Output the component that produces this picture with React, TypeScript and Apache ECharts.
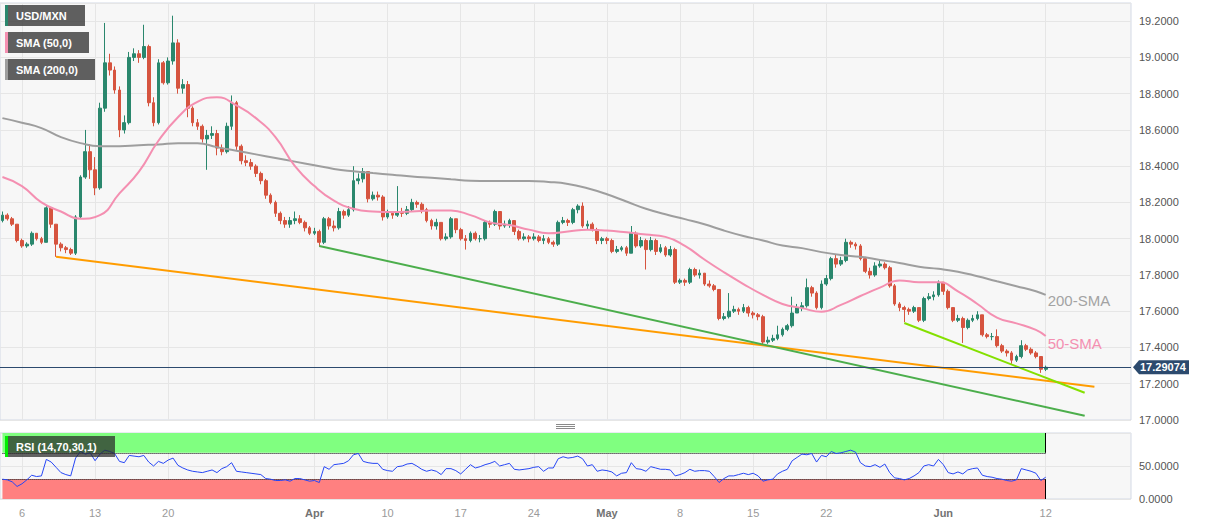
import React, { useEffect, useRef } from 'react';
import * as echarts from 'echarts';

const FONT = '"Liberation Sans", Arial, Helvetica, sans-serif';
const SLOT_COUNT = 232;

const firstOpen = 18.1;
const closes = [
  18.13, 18.11, 18.08, 17.99, 17.96, 17.97, 18.03, 18.0, 17.98, 18.17,
  18.08, 17.97, 17.95, 17.94, 17.92, 18.12, 18.34, 18.48, 18.38, 18.28,
  18.72, 18.97, 18.93, 18.82, 18.6, 18.64, 19.0, 19.02, 19.0, 19.06,
  18.75, 18.64, 18.97, 18.86, 18.98, 19.08, 18.83, 18.85, 18.72, 18.64,
  18.62, 18.55, 18.57, 18.58, 18.5, 18.48, 18.62, 18.75, 18.51, 18.43,
  18.42, 18.4, 18.36, 18.32, 18.24, 18.2, 18.14, 18.1, 18.08, 18.1,
  18.11, 18.09, 18.06, 18.03, 18.04, 17.98, 18.11, 18.07, 18.06, 18.15,
  18.13, 18.16, 18.32, 18.33, 18.37, 18.22, 18.24, 18.23, 18.12, 18.14,
  18.13, 18.15, 18.14, 18.16, 18.2, 18.19, 18.16, 18.1, 18.07, 18.09,
  18.0, 18.01, 18.11, 18.05, 18.0, 17.99, 18.03, 18.0, 18.0, 18.09,
  18.08, 18.15, 18.07, 18.08, 18.1, 18.04, 18.0, 18.01, 18.0, 18.01,
  17.99, 18.0, 17.98, 17.97, 18.09, 18.1, 18.09, 18.16, 18.18, 18.07,
  18.08, 18.05, 17.99, 18.0, 17.99, 17.93, 17.94, 17.95, 17.92, 18.03,
  17.96, 17.99, 17.94, 17.99, 17.93, 17.95, 17.91, 17.94, 17.76, 17.77,
  17.76, 17.83, 17.8, 17.81, 17.75, 17.74, 17.72, 17.56, 17.57, 17.6,
  17.61, 17.6, 17.62, 17.59, 17.58, 17.57, 17.43, 17.44, 17.45, 17.47,
  17.5, 17.52, 17.59, 17.62, 17.63, 17.73, 17.7, 17.62, 17.75, 17.78,
  17.89, 17.86, 17.88, 17.98, 17.97, 17.96, 17.89, 17.82, 17.8, 17.85,
  17.86, 17.84, 17.74, 17.64, 17.62, 17.61, 17.6, 17.62, 17.55, 17.67,
  17.68, 17.69, 17.76, 17.71, 17.62, 17.55, 17.56, 17.51, 17.55, 17.56,
  17.58, 17.47, 17.46, 17.46, 17.41, 17.38, 17.37, 17.33, 17.35, 17.41,
  17.39, 17.37, 17.35, 17.28, 17.29074,
];
const highs = [
  18.15, 18.14, 18.12, 18.08, 18.0, 17.98, 18.04, 18.03, 18.01, 18.18,
  18.17, 18.08, 17.98, 17.96, 17.95, 18.13, 18.35, 18.6, 18.52, 18.45,
  18.75, 19.19, 19.02, 18.95, 18.84, 18.68, 19.03, 19.05, 19.04, 19.18,
  19.07, 18.78, 18.99, 18.98, 19.0, 19.23, 19.1, 18.88, 18.87, 18.73,
  18.66, 18.63, 18.6, 18.62, 18.6, 18.52, 18.64, 18.79, 18.76, 18.52,
  18.46, 18.44, 18.41, 18.37, 18.33, 18.25, 18.21, 18.15, 18.12, 18.12,
  18.15, 18.13, 18.1, 18.07, 18.06, 18.05, 18.12, 18.12, 18.1, 18.17,
  18.16, 18.18, 18.4, 18.36, 18.39, 18.37, 18.26, 18.26, 18.24, 18.16,
  18.15, 18.29, 18.17, 18.18, 18.22, 18.21, 18.2, 18.17, 18.11, 18.11,
  18.09, 18.03, 18.12, 18.11, 18.06, 18.02, 18.04, 18.04, 18.02, 18.1,
  18.1, 18.16, 18.15, 18.1, 18.11, 18.1, 18.05, 18.03, 18.02, 18.03,
  18.02, 18.02, 18.01, 17.99, 18.1, 18.12, 18.11, 18.17, 18.19, 18.2,
  18.1, 18.09, 18.06, 18.01, 18.01, 18.0, 17.96, 17.96, 17.96, 18.07,
  18.04, 18.01, 18.0, 18.01, 18.0, 17.97, 17.96, 17.96, 17.95, 17.78,
  17.78, 17.84, 17.84, 17.83, 17.81, 17.77, 17.75, 17.72, 17.59, 17.7,
  17.63, 17.62, 17.64, 17.63, 17.6, 17.59, 17.58, 17.46, 17.47, 17.52,
  17.51, 17.53, 17.68, 17.64, 17.65, 17.78, 17.74, 17.71, 17.77, 17.8,
  17.9, 17.91, 17.9, 18.0, 17.99, 17.98, 17.97, 17.9, 17.84, 17.87,
  17.88, 17.87, 17.85, 17.75, 17.65, 17.63, 17.62, 17.63, 17.62, 17.68,
  17.7, 17.71, 17.77, 17.76, 17.72, 17.62, 17.58, 17.57, 17.56, 17.58,
  17.6, 17.58, 17.48, 17.48, 17.5, 17.42, 17.39, 17.38, 17.36, 17.44,
  17.42, 17.4, 17.38, 17.35, 17.3,
];
const lows = [
  18.09, 18.1, 18.07, 17.98, 17.95, 17.95, 17.96, 17.99, 17.97, 17.98,
  18.06, 17.9, 17.93, 17.92, 17.91, 17.91, 18.11, 18.33, 18.33, 18.24,
  18.27, 18.7, 18.9, 18.8, 18.56, 18.58, 18.63, 18.98, 18.97, 18.99,
  18.73, 18.62, 18.63, 18.85, 18.85, 18.96, 18.8, 18.8, 18.67, 18.62,
  18.6, 18.53, 18.38, 18.55, 18.46, 18.46, 18.47, 18.6, 18.49, 18.41,
  18.4, 18.38, 18.34, 18.3, 18.22, 18.19, 18.12, 18.08, 18.06, 18.06,
  18.08, 18.08, 18.04, 18.02, 18.02, 17.955, 17.97, 18.05, 18.04, 18.05,
  18.11, 18.12, 18.15, 18.3, 18.31, 18.2, 18.21, 18.21, 18.1, 18.11,
  18.11, 18.12, 18.12, 18.13, 18.15, 18.17, 18.14, 18.09, 18.05, 18.05,
  17.99, 17.99, 18.0, 18.03, 17.99, 17.94, 17.98, 17.99, 17.98, 17.99,
  18.06, 18.07, 18.05, 18.06, 18.06, 18.02, 17.99, 17.99, 17.98, 17.99,
  17.98, 17.97, 17.97, 17.955, 17.96, 18.08, 18.07, 18.08, 18.14, 18.06,
  18.05, 18.04, 17.97, 17.97, 17.97, 17.92, 17.92, 17.93, 17.905, 17.92,
  17.95, 17.95, 17.83, 17.93, 17.91, 17.92, 17.9, 17.9, 17.75, 17.75,
  17.74, 17.75, 17.79, 17.78, 17.74, 17.73, 17.71, 17.55, 17.55, 17.56,
  17.59, 17.58, 17.59, 17.57, 17.56, 17.55, 17.415, 17.42, 17.43, 17.44,
  17.46, 17.49, 17.51, 17.59, 17.6, 17.62, 17.68, 17.61, 17.61, 17.74,
  17.77, 17.84, 17.85, 17.87, 17.95, 17.94, 17.88, 17.81, 17.78, 17.79,
  17.84, 17.83, 17.73, 17.63, 17.6, 17.54, 17.58, 17.59, 17.54, 17.54,
  17.66, 17.66, 17.68, 17.69, 17.61, 17.54, 17.54, 17.425, 17.5, 17.54,
  17.55, 17.46, 17.45, 17.44, 17.4, 17.37, 17.35, 17.31, 17.32, 17.34,
  17.38, 17.36, 17.34, 17.26, 17.27,
];
const rsiValues = [
  30, 29, 26, 19, 23, 29, 36, 34, 35, 60,
  56, 48, 40, 37, 35, 62, 72, 68, 70, 58,
  68, 74, 72, 69, 57, 55, 66, 65, 64, 66,
  56, 50, 57, 54, 59, 62, 51, 47, 44, 42,
  41, 40, 42, 44, 40, 46, 49, 55, 42, 41,
  40, 39, 38, 37, 31, 30, 28, 28, 29, 27,
  31, 31, 29, 27, 28, 25, 49, 45, 52, 53,
  54, 58, 67, 69, 57, 55, 54, 54, 45, 43,
  42, 49, 50, 53, 54, 50, 45, 42, 44, 42,
  37, 46, 46, 43, 38, 45, 52, 47, 49, 52,
  54, 57, 50, 52, 54, 45, 44, 45, 46, 48,
  49, 42, 47, 47, 61, 64, 62, 63, 65, 61,
  50, 52, 42, 44, 43, 41, 35, 39, 40, 55,
  46, 45, 42, 49, 47, 45, 45, 44, 35, 37,
  40, 45, 42, 43, 43, 42, 34, 25, 31, 35,
  35, 37, 39, 37, 39, 35, 27, 29, 30, 38,
  42, 45, 58, 63, 68, 67, 69, 56, 66, 64,
  72, 69, 70, 72, 74, 71, 55, 50, 49, 52,
  48, 53, 40, 32, 31, 29, 31, 35, 40, 50,
  52, 50, 60, 52, 40, 38, 41, 38, 44, 46,
  47, 36, 34, 33, 31, 30, 28, 27, 29, 46,
  44, 42, 39, 28, 33,
];
const sma50 = [
  [0, 18.34], [4, 18.29], [8, 18.2], [12, 18.15], [16, 18.11], [20, 18.13],
  [24, 18.25], [28, 18.37], [32, 18.54], [36, 18.67], [40, 18.755], [44, 18.78],
  [48, 18.735], [52, 18.665], [56, 18.56], [60, 18.4], [64, 18.29], [68, 18.21],
  [72, 18.165], [76, 18.15], [80, 18.147], [84, 18.15], [88, 18.156], [92, 18.155],
  [96, 18.13], [100, 18.09], [104, 18.075], [108, 18.05], [112, 18.03], [116, 18.04],
  [120, 18.05], [124, 18.045], [128, 18.035], [132, 18.023], [136, 18.01], [140, 17.96],
  [144, 17.885], [148, 17.815], [152, 17.75], [156, 17.69], [160, 17.64], [164, 17.617],
  [168, 17.597], [172, 17.635], [176, 17.684], [180, 17.73], [184, 17.77], [188, 17.76],
  [192, 17.76], [196, 17.71], [200, 17.64], [204, 17.565], [208, 17.533], [212, 17.497],
  [214, 17.463],
];
const sma200 = [
  [0, 18.665], [4, 18.64], [8, 18.61], [12, 18.56], [16, 18.527], [20, 18.51],
  [24, 18.51], [28, 18.516], [32, 18.52], [36, 18.527], [40, 18.527], [44, 18.505],
  [48, 18.485], [52, 18.465], [56, 18.445], [60, 18.425], [64, 18.405], [68, 18.385],
  [72, 18.372], [76, 18.362], [80, 18.353], [84, 18.343], [88, 18.336], [92, 18.328],
  [96, 18.32], [100, 18.318], [104, 18.318], [108, 18.318], [112, 18.313], [116, 18.302],
  [120, 18.278], [124, 18.245], [128, 18.205], [132, 18.165], [136, 18.135], [140, 18.108],
  [144, 18.08], [148, 18.045], [152, 18.015], [156, 17.99], [160, 17.962], [164, 17.948],
  [168, 17.926], [172, 17.91], [176, 17.9], [180, 17.883], [184, 17.866], [188, 17.845],
  [192, 17.834], [196, 17.818], [200, 17.793], [204, 17.765], [208, 17.738], [212, 17.71],
  [214, 17.69],
];
const trendOrange = [[11, 17.9], [224, 17.183]];
const trendGreen = [[65, 17.96], [222, 17.023]];
const trendLime = [[185, 17.535], [222, 17.15]];
const lastPrice = 17.29074;

const xTickIdx = [4, 19, 34, 64, 79, 94, 109, 124, 139, 154, 169, 193, 214];
const xTickLabels = ['6', '13', '20', 'Apr', '10', '17', '24', 'May', '8', '15', '22', 'Jun', '12'];
const monthNames = ['Apr', 'May', 'Jun'];
const priceMin = 17.0;
const priceMax = 19.3;
const priceStep = 0.2;
const rsiUpper = 70;
const rsiLower = 30;

const UP = '#2a876d';
const DOWN = '#d6543f';
const GRID_LINE = '#e6e6e6';
const BORDER = '#d3d9e5';
const NAVY = '#2c4a6e';

export default function App() {
  const ref = useRef<HTMLDivElement>(null);

  useEffect(() => {
    document.body.style.margin = '0';
    const el = ref.current as HTMLDivElement;
    const chart = echarts.init(el, undefined, { renderer: 'svg' });
    const cats = Array.from({ length: SLOT_COUNT }, (_, i) => String(i));
    const ohlc = closes.map((c, i) => {
      const o = i === 0 ? firstOpen : closes[i - 1];
      return [o, c, Math.min(lows[i], o, c), Math.max(highs[i], o, c)];
    });
    const lastIdx = closes.length - 1;
    const tickSet = new Set(xTickIdx);
    const isTick = (i: number) => tickSet.has(i);

    const option: any = {
      animation: false,
      backgroundColor: '#ffffff',
      textStyle: { fontFamily: FONT },
      grid: [
        { left: 0, top: 3, width: 1131, height: 417, show: true, backgroundColor: '#f7f7f7', borderColor: BORDER, borderWidth: 1 },
        { left: 0, top: 433, width: 1131, height: 66, show: true, backgroundColor: '#f7f7f7', borderColor: BORDER, borderWidth: 1 },
      ],
      xAxis: [
        {
          type: 'category', gridIndex: 0, data: cats, boundaryGap: true,
          axisLine: { show: false }, axisTick: { show: false }, axisLabel: { show: false },
          splitLine: { show: true, interval: (i: number) => isTick(i), alignWithLabel: true, lineStyle: { color: GRID_LINE, width: 1 } },
        },
        {
          type: 'category', gridIndex: 1, data: cats, boundaryGap: true,
          axisLine: { show: false }, axisTick: { show: false },
          axisLabel: {
            show: true, interval: (i: number) => isTick(i), margin: 8,
            formatter: (_v: string, index: number) => {
              const k = xTickIdx.indexOf(index);
              if (k < 0) return '';
              const t = xTickLabels[k];
              return monthNames.includes(t) ? `{m|${t}}` : `{d|${t}}`;
            },
            rich: {
              m: { fontWeight: 'bold', color: '#737373', fontSize: 11, fontFamily: FONT },
              d: { color: '#9a9a9a', fontSize: 11, fontFamily: FONT },
            },
          },
          splitLine: { show: true, interval: (i: number) => isTick(i), alignWithLabel: true, lineStyle: { color: GRID_LINE, width: 1 } },
        },
      ],
      yAxis: [
        {
          type: 'value', gridIndex: 0, position: 'right', min: priceMin, max: priceMax, interval: priceStep,
          axisLine: { show: false }, axisTick: { show: false },
          axisLabel: {
            color: '#555', fontSize: 11, margin: 8, fontFamily: FONT,
            formatter: (v: number) => (Math.abs(v / priceStep - Math.round(v / priceStep)) < 1e-6 ? v.toFixed(4) : ''),
          },
          splitLine: { show: true, lineStyle: { color: GRID_LINE, width: 1 } },
        },
        {
          type: 'value', gridIndex: 1, position: 'right', min: 0, max: 100, interval: 50,
          axisLine: { show: false }, axisTick: { show: false },
          axisLabel: { color: '#555', fontSize: 11, margin: 8, fontFamily: FONT, formatter: (v: number) => (v >= 100 ? '' : v.toFixed(4)) },
          splitLine: { show: true, lineStyle: { color: GRID_LINE, width: 1 } },
        },
      ],
      series: [
        {
          type: 'candlestick', name: 'USD/MXN', xAxisIndex: 0, yAxisIndex: 0, data: ohlc,
          barWidth: '66%',
          itemStyle: { color: UP, color0: DOWN, borderColor: UP, borderColor0: DOWN, borderWidth: 1 },
          markLine: {
            silent: true, symbol: ['none', 'none'], label: { show: false },
            lineStyle: { color: NAVY, width: 1, type: 'solid' },
            data: [{ yAxis: lastPrice }],
          },
          z: 2,
        },
        {
          type: 'line', name: 'SMA200', xAxisIndex: 0, yAxisIndex: 0, data: sma200, smooth: true,
          showSymbol: false, symbol: 'none', lineStyle: { color: '#9e9e9e', width: 2 },
          endLabel: { show: true, formatter: '200-SMA', color: '#a3a3a3', fontSize: 15, fontFamily: FONT, distance: 2, offset: [0, 6] },
          z: 3,
        },
        {
          type: 'line', name: 'SMA50', xAxisIndex: 0, yAxisIndex: 0, data: sma50, smooth: true,
          showSymbol: false, symbol: 'none', lineStyle: { color: '#f48fb1', width: 2 },
          endLabel: { show: true, formatter: '50-SMA', color: '#f48fb1', fontSize: 15, fontFamily: FONT, distance: 2, offset: [0, 7] },
          z: 3,
        },
        {
          type: 'line', name: 'trendOrange', xAxisIndex: 0, yAxisIndex: 0, data: trendOrange,
          showSymbol: false, symbol: 'none', lineStyle: { color: '#ff9c00', width: 2 }, z: 4,
        },
        {
          type: 'line', name: 'trendGreen', xAxisIndex: 0, yAxisIndex: 0, data: trendGreen,
          showSymbol: false, symbol: 'none', lineStyle: { color: '#4cae4c', width: 2 }, z: 4,
        },
        {
          type: 'line', name: 'trendLime', xAxisIndex: 0, yAxisIndex: 0, data: trendLime,
          showSymbol: false, symbol: 'none', lineStyle: { color: '#84e000', width: 2 }, z: 4,
        },
        {
          type: 'line', name: 'RSI', xAxisIndex: 1, yAxisIndex: 1, data: rsiValues,
          showSymbol: false, symbol: 'none', lineStyle: { color: '#2646f5', width: 1 }, z: 5,
          markArea: {
            silent: true,
            data: [
              [{ xAxis: 0, yAxis: rsiUpper, itemStyle: { color: '#80ff80' } }, { xAxis: lastIdx, yAxis: 100 }],
              [{ xAxis: 0, yAxis: 0, itemStyle: { color: '#ff8080' } }, { xAxis: lastIdx, yAxis: rsiLower }],
            ],
          },
          markLine: {
            silent: true, symbol: ['none', 'none'], label: { show: false },
            data: [
              [{ coord: [0, rsiUpper], lineStyle: { color: '#000', width: 1, type: 'dotted' } }, { coord: [lastIdx, rsiUpper] }],
              [{ coord: [0, rsiLower], lineStyle: { color: '#000', width: 1, type: 'dotted' } }, { coord: [lastIdx, rsiLower] }],
              [{ coord: [lastIdx, rsiUpper], lineStyle: { color: '#000', width: 1, type: 'solid' } }, { coord: [lastIdx, 100] }],
              [{ coord: [lastIdx, 0], lineStyle: { color: '#000', width: 1, type: 'solid' } }, { coord: [lastIdx, rsiLower] }],
            ],
          },
        },
      ],
    };
    chart.setOption(option);

    const yP = chart.convertToPixel({ yAxisIndex: 0 }, lastPrice) as number;
    const box = (x: number, y: number, w: number, h: number, bar: string, text: string, fill: string) => ({
      type: 'group',
      z: 100,
      children: [
        { type: 'rect', z: 100, shape: { x, y, width: w, height: h }, style: { fill } },
        { type: 'rect', z: 101, shape: { x, y, width: 3, height: h }, style: { fill: bar } },
        { type: 'text', z: 102, style: { x: x + 11, y: y + h / 2, text, fill: '#ffffff', font: `bold 11px ${FONT}`, verticalAlign: 'middle' } },
      ],
    });
    chart.setOption({
      graphic: [
        box(5, 5, 80, 21, UP, 'USD/MXN', 'rgba(52,52,52,0.78)'),
        box(5, 32, 84, 21, '#f48fb1', 'SMA (50,0)', 'rgba(52,52,52,0.78)'),
        box(5, 59, 90, 21, '#9e9e9e', 'SMA (200,0)', 'rgba(52,52,52,0.78)'),
        box(5, 436, 110, 21, '#00ee00', 'RSI (14,70,30,1)', 'rgba(40,40,40,0.72)'),
        { type: 'line', z: 100, shape: { x1: 556, y1: 424.5, x2: 575, y2: 424.5 }, style: { stroke: '#8a8a8a', lineWidth: 1 } },
        { type: 'line', z: 100, shape: { x1: 556, y1: 426.5, x2: 575, y2: 426.5 }, style: { stroke: '#8a8a8a', lineWidth: 1 } },
        { type: 'line', z: 100, shape: { x1: 556, y1: 428.5, x2: 575, y2: 428.5 }, style: { stroke: '#8a8a8a', lineWidth: 1 } },
        {
          type: 'polygon', z: 100,
          shape: { points: [[1133, yP], [1139, yP - 7], [1189, yP - 7], [1189, yP + 7], [1139, yP + 7]] },
          style: { fill: NAVY },
        },
        { type: 'text', z: 101, style: { x: 1140, y: yP, text: lastPrice.toFixed(5), fill: '#ffffff', font: `bold 11px ${FONT}`, verticalAlign: 'middle' } },
      ],
    });

    return () => chart.dispose();
  }, []);

  return <div ref={ref} style={{ width: 1207, height: 526 }} />;
}
